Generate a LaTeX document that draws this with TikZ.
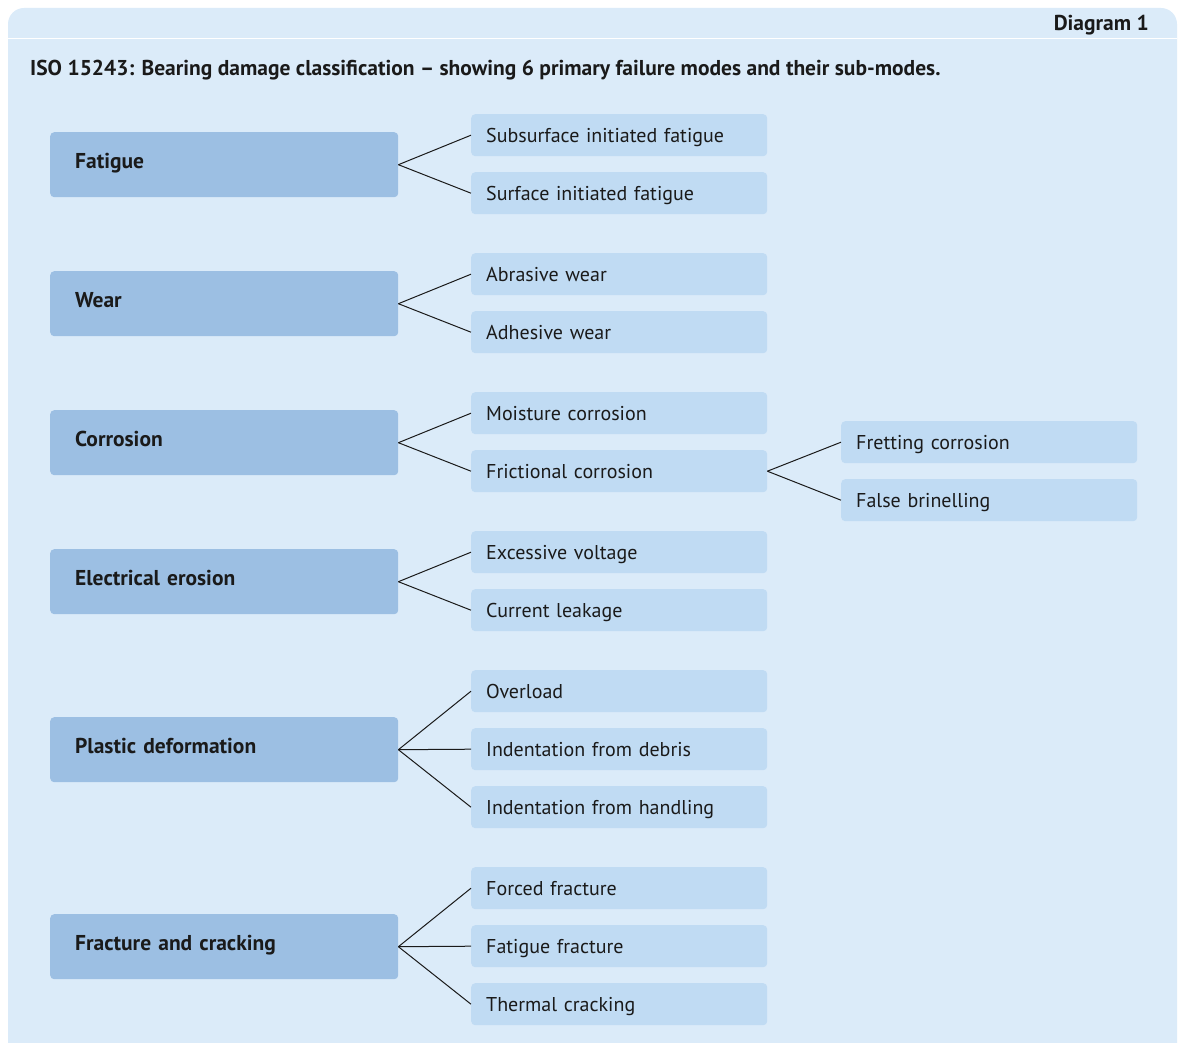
\documentclass[tikz,border=0pt]{standalone}
\usepackage{fontspec}
\setmainfont{PT Sans}
\definecolor{panelbg}{HTML}{DBEBF9}
\definecolor{primfill}{HTML}{9CBFE3}
\definecolor{subfill}{HTML}{C0DBF3}
\definecolor{ink}{HTML}{1A1A1A}
\tikzset{
  primbox/.style={fill=primfill, rounded corners=4pt, anchor=north west, inner xsep=25pt, inner ysep=0pt,
    text width=298pt, minimum height=65pt, text height=16pt, text depth=8.5pt, align=left,
    font=\fontsize{21.5}{25}\selectfont\bfseries, text=ink},
  subbox/.style={fill=subfill, rounded corners=4pt, anchor=north west, inner xsep=15pt, inner ysep=0pt,
    text width=266pt, minimum height=42pt, text height=16pt, text depth=2pt, align=left,
    font=\fontsize{20}{24}\selectfont, text=ink},
  heading/.style={inner sep=0pt, font=\fontsize{21.5}{25}\selectfont\bfseries, text=ink},
  link/.style={draw=ink, line width=1pt},
}
\begin{document}
\begin{tikzpicture}[x=1pt,y=-1pt]
\useasboundingbox (0,0) rectangle (1181,1043);
\fill[panelbg, rounded corners=16pt] (8,1070) -- (8,8) -- (1177,8) -- (1177,1070) -- cycle;
\draw[white, line width=1.6pt] (8,38.5) -- (1177,38.5);
\node[heading, anchor=base east] (hdr) at (1149,31) {Diagram 1};
\node[heading, anchor=base west] (title) at (30,76) {ISO 15243: Bearing damage classification -- showing 6 primary failure modes and their sub-modes.};

% primary
\node[primbox] (fat) at (50,132) {Fatigue};
\node[primbox] (wea) at (50,271) {Wear};
\node[primbox] (cor) at (50,410) {Corrosion};
\node[primbox] (ele) at (50,549) {Electrical erosion};
\node[primbox] (pla) at (50,717) {Plastic deformation};
\node[primbox] (fra) at (50,914) {Fracture and cracking};

% sub
\node[subbox] (fat1) at (471,114) {Subsurface initiated fatigue};
\node[subbox] (fat2) at (471,172) {Surface initiated fatigue};
\node[subbox] (wea1) at (471,253) {Abrasive wear};
\node[subbox] (wea2) at (471,311) {Adhesive wear};
\node[subbox] (cor1) at (471,392) {Moisture corrosion};
\node[subbox] (cor2) at (471,450) {Frictional corrosion};
\node[subbox] (ele1) at (471,531) {Excessive voltage};
\node[subbox] (ele2) at (471,589) {Current leakage};
\node[subbox] (pla1) at (471,670) {Overload};
\node[subbox] (pla2) at (471,728) {Indentation from debris};
\node[subbox] (pla3) at (471,786) {Indentation from handling};
\node[subbox] (fra1) at (471,867) {Forced fracture};
\node[subbox] (fra2) at (471,925) {Fatigue fracture};
\node[subbox] (fra3) at (471,983) {Thermal cracking};

\node[subbox] (fri1) at (841,421) {Fretting corrosion};
\node[subbox] (fri2) at (841,479) {False brinelling};

% links
\foreach \p/\c in {fat/fat1,fat/fat2,wea/wea1,wea/wea2,cor/cor1,cor/cor2,ele/ele1,ele/ele2,pla/pla1,pla/pla2,pla/pla3,fra/fra1,fra/fra2,fra/fra3,cor2/fri1,cor2/fri2}
  \draw[link] (\p.east) -- (\c.west);
\end{tikzpicture}
\end{document}
